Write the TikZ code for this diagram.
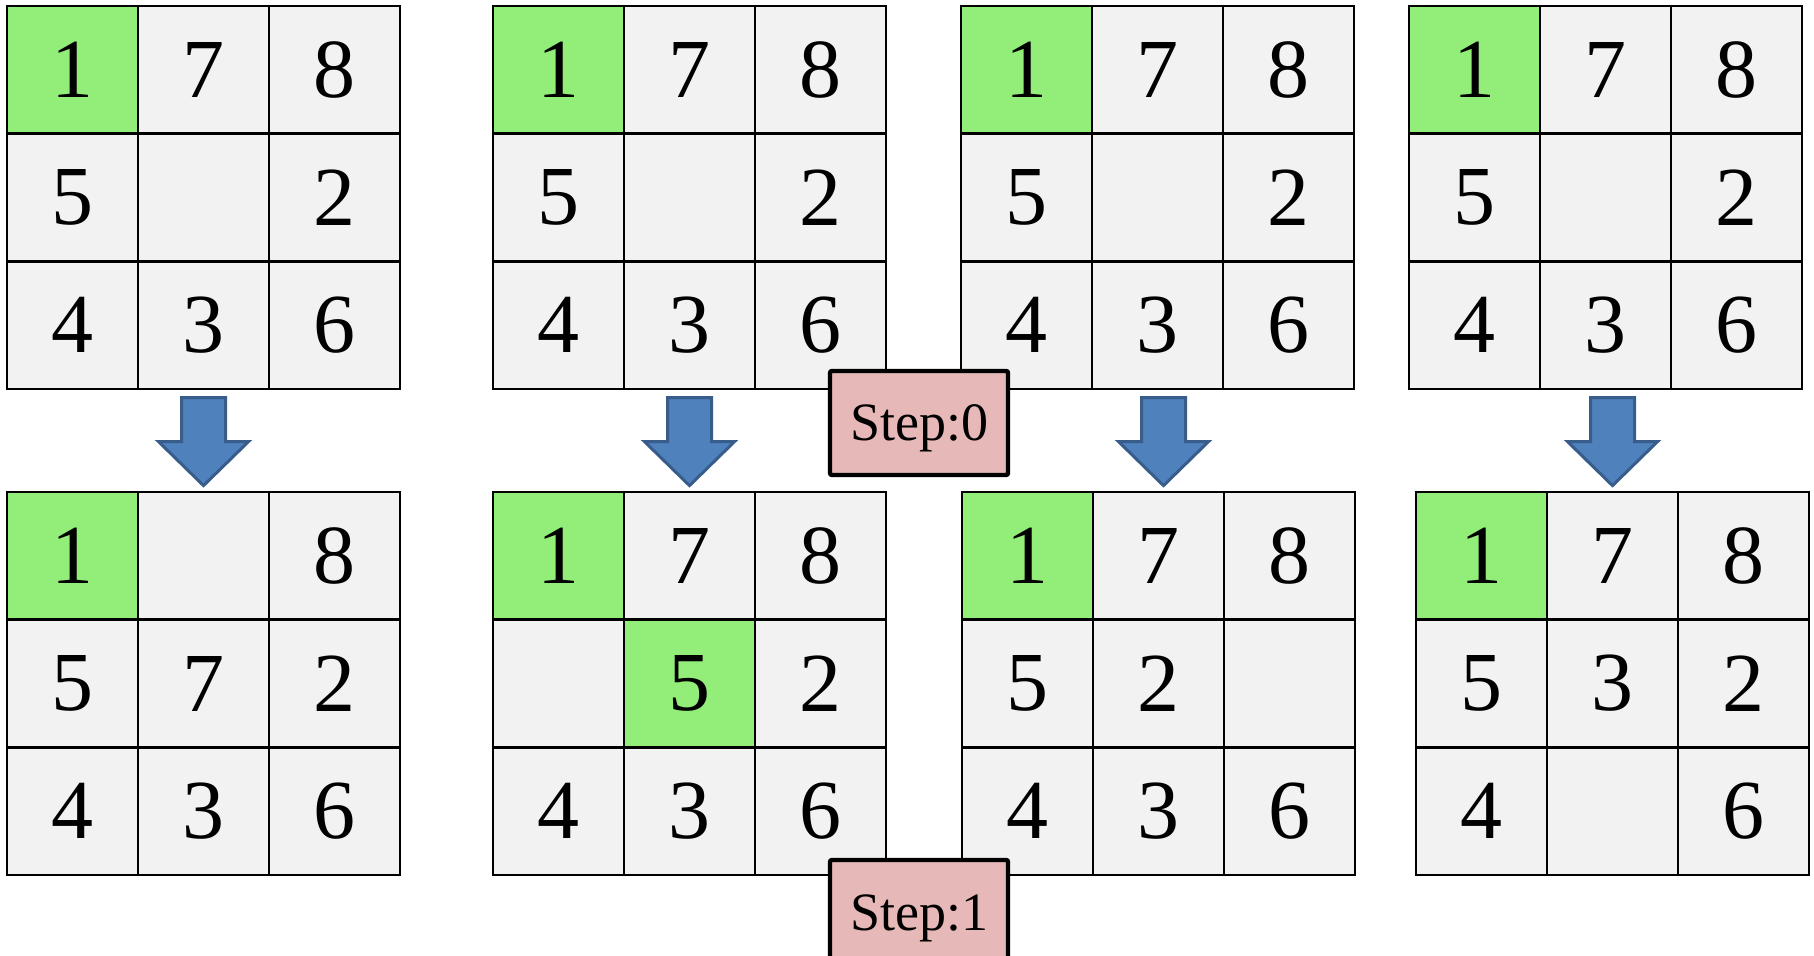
\documentclass[tikz,border=0pt]{standalone}
\usepackage{fontspec}
\setmainfont{Liberation Serif}
\usepackage{xcolor}
\usepackage{tikz}
\usetikzlibrary{arrows.meta, positioning}

\definecolor{tilegray}{HTML}{F2F2F2}
\definecolor{fixgreen}{HTML}{92EE78}
\definecolor{steppink}{HTML}{E6B8B7}
\definecolor{arrowblue}{HTML}{4F81BD}
\definecolor{arrowline}{HTML}{385D8A}

% one 3x3 board: name, left, top, list of value/style
\newcommand{\board}[4]{%
  \foreach \v/\f [count=\k from 0,
      evaluate=\k as \col using {int(mod(\k,3))},
      evaluate=\k as \row using {int(\k/3)}] in {#4}
    \node[\f] (#1-\k) at ({#2+131*(\col+0.5)}, {#3+127.67*(\row+0.5)}) {\v};
}

\begin{document}
\begin{tikzpicture}[
  x=0.5pt, y=-0.5pt,
  tile/.style={rectangle, draw, line width=1.4pt, fill=tilegray,
    minimum width=65.5pt, minimum height=63.83pt, inner sep=0pt,
    font=\fontsize{42}{50}\selectfont},
  fixed/.style={tile, fill=fixgreen},
  stepbox/.style={rectangle, draw, line width=2.2pt, fill=steppink,
    rounded corners=1pt, minimum width=89pt, minimum height=52pt,
    text height=18pt, text depth=0pt,
    font=\fontsize{27}{32}\selectfont},
  arrowbody/.style={fill=arrowblue, draw=arrowline, line width=1.5pt},
  downarrow/.pic={
    \draw[arrowbody] (0,-5) -- (-45,-49) -- (-22,-49) -- (-22,-93)
      -- (22,-93) -- (22,-49) -- (45,-49) -- cycle;
  }
]
\useasboundingbox (0,0) rectangle (1814,956);

% before the move
\board{t1}{7}{6}{1/fixed,7/tile,8/tile,5/tile,{}/tile,2/tile,4/tile,3/tile,6/tile}
\board{t2}{493}{6}{1/fixed,7/tile,8/tile,5/tile,{}/tile,2/tile,4/tile,3/tile,6/tile}
\board{t3}{961}{6}{1/fixed,7/tile,8/tile,5/tile,{}/tile,2/tile,4/tile,3/tile,6/tile}
\board{t4}{1409}{6}{1/fixed,7/tile,8/tile,5/tile,{}/tile,2/tile,4/tile,3/tile,6/tile}

% after the move
\board{b1}{7}{492}{1/fixed,{}/tile,8/tile,5/tile,7/tile,2/tile,4/tile,3/tile,6/tile}
\board{b2}{493}{492}{1/fixed,7/tile,8/tile,{}/tile,5/fixed,2/tile,4/tile,3/tile,6/tile}
\board{b3}{962}{492}{1/fixed,7/tile,8/tile,5/tile,2/tile,{}/tile,4/tile,3/tile,6/tile}
\board{b4}{1416}{492}{1/fixed,7/tile,8/tile,5/tile,3/tile,2/tile,4/tile,{}/tile,6/tile}

% moves
\pic at (b1-1.north) {downarrow};
\pic at (b2-1.north) {downarrow};
\pic[xshift=2.5pt] at (b3-1.north) {downarrow};
\pic at (b4-1.north) {downarrow};

\node[stepbox] (s0) at (919,423) {Step:0};
\node[stepbox] (s1) at (919,912) {Step:1};
\end{tikzpicture}
\end{document}
